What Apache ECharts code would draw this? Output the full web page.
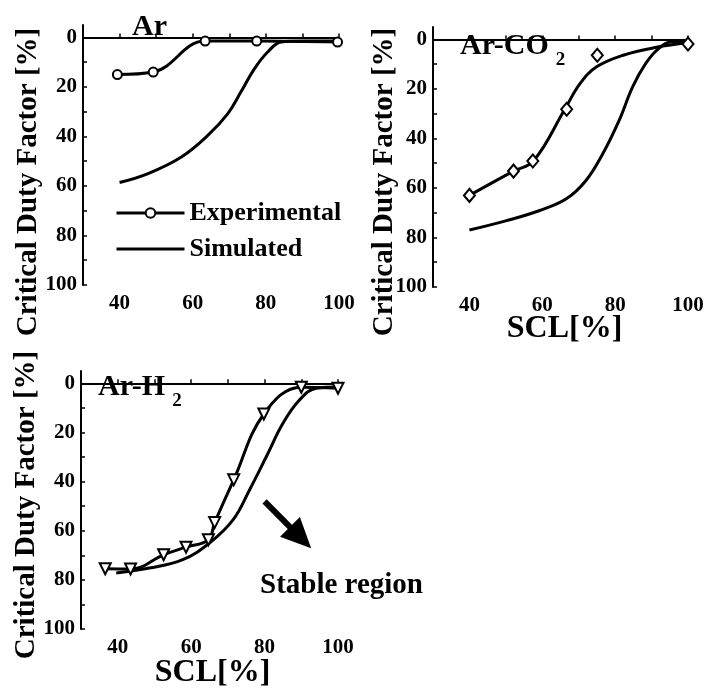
<!DOCTYPE html>
<html>
<head>
<meta charset="utf-8">
<script src="https://cdn.jsdelivr.net/npm/echarts@6/dist/echarts.min.js"></script>
<style>
  html, body { margin: 0; padding: 0; background: #fff; }
  #main { width: 716px; height: 692px; }
</style>
</head>
<body>
<div id="main"></div>
<script>
// ---- data (SCL [%] vs critical duty factor [%]) ----
var xTickLabels = [40, 60, 80, 100];
var xTicks = [40, 50, 60, 70, 80, 90, 100];
var yTickLabels = [0, 20, 40, 60, 80, 100];
var yTicks = [0, 10, 20, 30, 40, 50, 60, 70, 80, 90, 100];

// Ar
var arExpX = [39.4, 49.2, 63.4, 77.5, 99.6];
var arExpY = [15, 14, 1.5, 1.5, 1.9];
var arSimX = [40, 47.8, 56.9, 64.2, 69.6, 73.2, 76.9, 80.5, 84.2, 90, 100];
var arSimY = [58.6, 55, 48.3, 39.5, 30.8, 22, 12.6, 5.9, 1.9, 1.5, 1.5];

// Ar-CO2
var co2PtsX = [40, 52.1, 57.4, 66.7, 75.1, 100];
var co2PtsY = [63, 53.2, 49.1, 28.2, 6.4, 1.9];
var co2FitX = [40, 52.1, 57.6, 66.3, 70.4, 74.9, 82.2, 91.3, 100];
var co2FitY = [63, 53.2, 49.1, 27.9, 17.8, 11.1, 6.4, 3.2, 1.4];
var co2SimX = [40, 50.2, 59.3, 66.6, 72, 76.6, 81.1, 84.8, 88.4, 92, 95.7, 100];
var co2SimY = [77, 73.2, 69.1, 64.4, 57, 46.2, 32.7, 19.2, 9.7, 3.6, 1, 1];

// Ar-H2
var h2ExpX = [36.6, 43.5, 52.5, 58.6, 64.7, 66.4, 71.6, 79.8, 90, 100];
var h2ExpY = [75.5, 75.6, 69.8, 66.7, 63.7, 56.7, 39.3, 12.5, 1.6, 2];
var h2SimX = [39.6, 48.6, 57.7, 65, 71.4, 75.9, 80.5, 85, 89.5, 94.1, 100];
var h2SimY = [77.2, 75.2, 71.8, 65, 55.6, 43.4, 29.8, 16.3, 6.8, 2, 1.5];

// arrow pointing into the stable region
var arrowFrom = [80, 48.1];
var arrowTo = [89.8, 62.8];

var FONT = '"Liberation Serif", "Times New Roman", serif';

function zip(xs, ys) {
  return xs.map(function (x, i) { return [x, ys[i]]; });
}

function xAxisFor(idx, name, nameGap, shift) {
  return {
    type: 'value', gridIndex: idx, min: 30, max: 100,
    name: name, nameLocation: 'middle', nameGap: nameGap, nameMoveOverlap: false,
    nameTextStyle: { fontFamily: FONT, fontWeight: 'bold', fontSize: 32, color: '#000', padding: [0, 0, 0, shift] },
    axisLine: { lineStyle: { color: '#000', width: 2 } },
    axisTick: { inside: true, length: 4, customValues: xTicks, lineStyle: { color: '#000', width: 1.5 } },
    axisLabel: { customValues: xTickLabels, margin: 8, fontFamily: FONT, fontWeight: 'bold', fontSize: 21, color: '#000' },
    splitLine: { show: false }
  };
}

function yAxisFor(idx, nameGap, shift) {
  return {
    type: 'value', gridIndex: idx, min: -5, max: 100, inverse: true,
    name: 'Critical Duty Factor [%]', nameLocation: 'middle', nameGap: nameGap, nameMoveOverlap: false,
    nameTextStyle: { fontFamily: FONT, fontWeight: 'bold', fontSize: 29, color: '#000', padding: [0, shift, 0, 0] },
    axisLine: { lineStyle: { color: '#000', width: 2 } },
    axisTick: { inside: true, length: 4, customValues: yTicks, lineStyle: { color: '#000', width: 1.5 } },
    axisLabel: { customValues: yTickLabels, margin: 6, fontFamily: FONT, fontWeight: 'bold', fontSize: 21, color: '#000' },
    splitLine: { show: false }
  };
}

function panelTitle(main, sub, left, top) {
  var txt = sub ? '{m|' + main + '}{s|' + sub + '}' : '{m|' + main + '}';
  return {
    text: txt, left: left, top: top, padding: 0,
    textStyle: {
      rich: {
        m: { fontFamily: FONT, fontWeight: 'bold', fontSize: 30, lineHeight: 30, color: '#000', verticalAlign: 'top' },
        s: { fontFamily: FONT, fontWeight: 'bold', fontSize: 19, color: '#000', verticalAlign: 'top', padding: [20, 0, 0, 7] }
      }
    }
  };
}

var lineBase = { type: 'line', smooth: 0.4, lineStyle: { color: '#000', width: 3 }, itemStyle: { color: '#000' } };

function lineSeries(opts) {
  return Object.assign({}, lineBase, opts);
}

var chart = echarts.init(document.getElementById('main'));
chart.setOption({
  animation: false,
  backgroundColor: '#fff',
  title: [
    panelTitle('Ar', '', 132, 12),
    panelTitle('Ar-CO', '2', 460, 31),
    panelTitle('Ar-H', '2', 98, 372),
    { text: 'Stable region', left: 260, top: 571, padding: 0,
      textStyle: { fontFamily: FONT, fontWeight: 'bold', fontSize: 29, color: '#000' } }
  ],
  legend: {
    data: [
      { name: 'Experimental' },
      { name: 'Simulated', icon: 'path://M0,0H70V3H0Z' }
    ],
    orient: 'vertical', left: 115, top: 200, padding: 0,
    itemWidth: 68, itemHeight: 12, itemGap: 10,
    selectedMode: false,
    lineStyle: { width: 3 },
    textStyle: { fontFamily: FONT, fontWeight: 'bold', fontSize: 26, color: '#000' }
  },
  grid: [
    { left: 83, top: 25, width: 256, height: 260, outerBoundsMode: 'none' },
    { left: 433, top: 27, width: 255, height: 260, outerBoundsMode: 'none' },
    { left: 81, top: 371, width: 257, height: 258, outerBoundsMode: 'none' }
  ],
  xAxis: [
    xAxisFor(0, '', 20, 0),
    xAxisFor(1, 'SCL[%]', 26, 8),
    xAxisFor(2, 'SCL[%]', 28, 6)
  ],
  yAxis: [
    yAxisFor(0, 40, 54),
    yAxisFor(1, 34, 50),
    yAxisFor(2, 40, 10)
  ],
  series: [
    lineSeries({ name: 'Experimental', xAxisIndex: 0, yAxisIndex: 0, data: zip(arExpX, arExpY),
      symbol: 'emptyCircle', symbolSize: 9, itemStyle: { color: '#000', borderWidth: 2 } }),
    lineSeries({ name: 'Simulated', xAxisIndex: 0, yAxisIndex: 0, data: zip(arSimX, arSimY), showSymbol: false, symbol: 'none' }),

    lineSeries({ name: 'Ar-CO2 fit', xAxisIndex: 1, yAxisIndex: 1, data: zip(co2FitX, co2FitY), showSymbol: false, symbol: 'none' }),
    { name: 'Ar-CO2 experimental', type: 'scatter', xAxisIndex: 1, yAxisIndex: 1, data: zip(co2PtsX, co2PtsY),
      symbol: 'emptyDiamond', symbolSize: [11, 13], itemStyle: { color: '#000', borderColor: '#000', borderWidth: 2, opacity: 1 }, z: 5 },
    lineSeries({ name: 'Ar-CO2 simulated', xAxisIndex: 1, yAxisIndex: 1, data: zip(co2SimX, co2SimY), showSymbol: false, symbol: 'none' }),

    lineSeries({ name: 'Ar-H2 experimental', xAxisIndex: 2, yAxisIndex: 2, data: zip(h2ExpX, h2ExpY),
      symbol: 'emptyTriangle', symbolRotate: 180, symbolSize: 11, itemStyle: { color: '#000', borderWidth: 1.8 } }),
    lineSeries({ name: 'Ar-H2 simulated', xAxisIndex: 2, yAxisIndex: 2, data: zip(h2SimX, h2SimY), showSymbol: false, symbol: 'none',
      markLine: {
        silent: true, symbol: ['none', 'triangle'], symbolSize: [28, 30],
        label: { show: false },
        lineStyle: { color: '#000', width: 6, type: 'solid' },
        data: [[{ coord: arrowFrom }, { coord: arrowTo }]]
      } })
  ]
});
</script>
</body>
</html>
